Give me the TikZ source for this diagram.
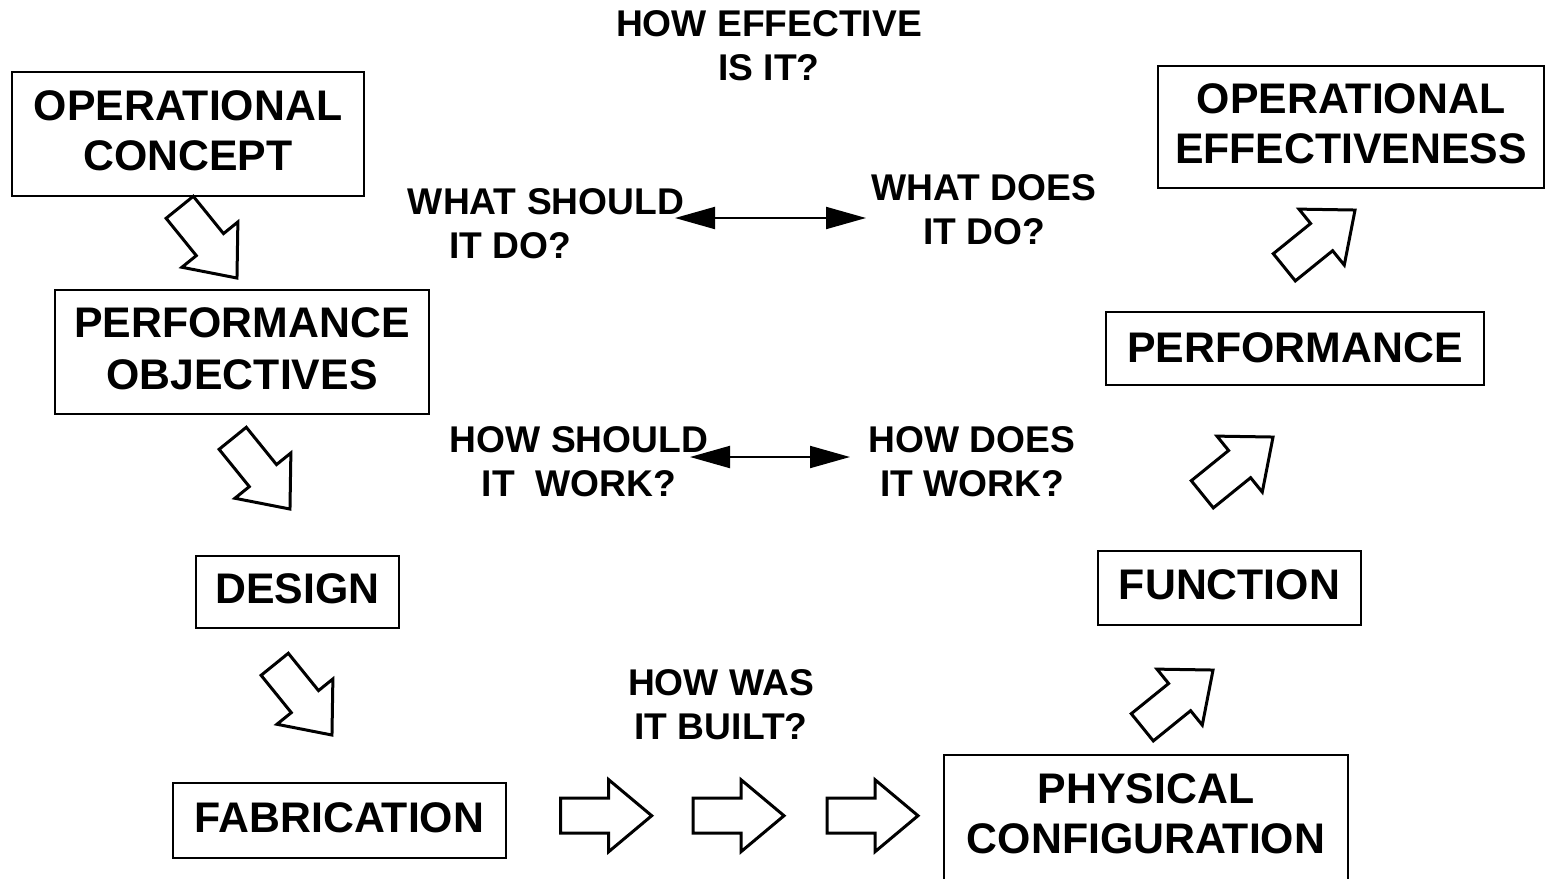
\documentclass[tikz,border=0pt]{standalone}
\usepackage{fontspec}
\setmainfont{Liberation Sans}
\usetikzlibrary{arrows.meta}
\tikzset{
  box/.style={draw, line width=1.2pt, inner sep=0pt, align=center, text depth=3pt,
    font=\fontsize{21.4}{25}\selectfont\bfseries},
  lbl/.style={inner sep=0pt, align=center,
    font=\fontsize{18.6}{22}\selectfont\bfseries},
  dbl/.style={line width=1pt, {Triangle[length=20pt,width=11pt]}-{Triangle[length=20pt,width=11pt]}},
  blockarrow/.pic={\draw[line width=1.5pt, line join=miter]
    (0,-17.5) -- (48,-17.5) -- (48,-36) -- (91,0) -- (48,36) -- (48,17.5) -- (0,17.5) -- cycle;}
}
\begin{document}
\begin{tikzpicture}[x=0.5pt, y=-0.5pt]
\useasboundingbox (0,0) rectangle (1545,878);
\clip (0,0) rectangle (1545,878);
% boxes
\node[box, minimum width=176pt, minimum height=62pt] (opc) at (188,134) {OPERATIONAL\\CONCEPT};
\node[box, minimum width=187pt, minimum height=62pt, text depth=3.5pt, font=\fontsize{21.4}{26}\selectfont\bfseries] (pobj) at (242,352) {PERFORMANCE\\OBJECTIVES};
\node[box, minimum width=101.5pt, minimum height=36pt] (design) at (297.5,592) {DESIGN};
\node[box, minimum width=166.5pt, minimum height=37.5pt] (fab) at (339.5,820.5) {FABRICATION};
\node[box, minimum width=202pt, minimum height=65pt, text depth=6pt] (phys) at (1146,820) {PHYSICAL\\CONFIGURATION};
\node[box, minimum width=131.5pt, minimum height=37pt] (func) at (1229.5,588) {FUNCTION};
\node[box, minimum width=189pt, minimum height=36.5pt, text depth=1pt] (perf) at (1295,348.5) {PERFORMANCE};
\node[box, minimum width=193pt, minimum height=61pt, text depth=3.5pt] (opeff) at (1351,127) {OPERATIONAL\\EFFECTIVENESS};
% labels
\node[lbl] (howeff) at (769,46) {HOW EFFECTIVE\\IS IT?};
\node[lbl] (whatshould) at (546,224) {WHAT SHOULD\\IT DO?\hspace*{36pt}};
\node[lbl] (whatdoes) at (984,210) {WHAT DOES\\IT DO?};
\node[lbl] (howshould) at (579,462) {HOW SHOULD\\IT\ \ WORK?};
\node[lbl] (howdoes) at (972,462) {HOW DOES\\IT WORK?};
\node[lbl] (howwas) at (721,705) {HOW WAS\\IT BUILT?};
% double arrows
\coordinate (d1l) at (675,218);
\coordinate (d1r) at (866,218);
\coordinate (d2l) at (690,457);
\coordinate (d2r) at (850,457);
\draw[dbl] (d1l) -- (d1r);
\draw[dbl] (d2l) -- (d2r);
% block arrows down-right
\pic[rotate=-51] at (179.7,207.3) {blockarrow};
\pic[rotate=-51] at (232.7,438.3) {blockarrow};
\pic[rotate=-51] at (274.7,664.3) {blockarrow};
% block arrows right
\pic at (560.7,815.7) {blockarrow};
\pic at (693,815.7) {blockarrow};
\pic at (827,815.7) {blockarrow};
% block arrows up-right
\pic[rotate=39] at (1142.3,727.3) {blockarrow};
\pic[rotate=39] at (1202.3,494.3) {blockarrow};
\pic[rotate=39] at (1284.3,267.3) {blockarrow};
\end{tikzpicture}
\end{document}
